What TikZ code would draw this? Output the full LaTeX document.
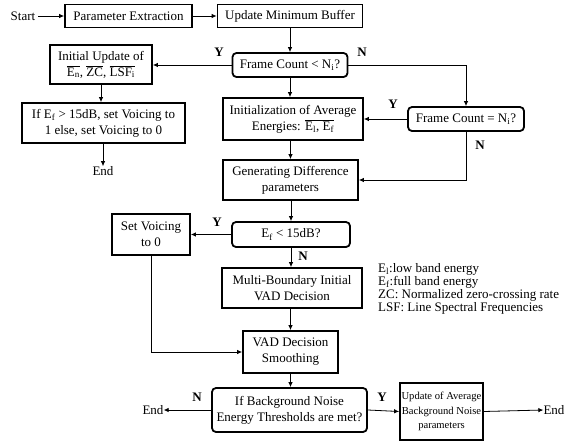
\documentclass[tikz,border=0pt]{standalone}
\usepackage{fontspec}
\setmainfont{Liberation Serif}
\usetikzlibrary{arrows.meta}
\newcommand\fs{\fontsize{13}{16}\selectfont}
\newcommand\fss{\fontsize{10.6}{14.5}\selectfont}
\newcommand\ov[1]{$\overline{\mbox{#1}}$}
\tikzset{
  box/.style={draw, line width=1.8pt, inner sep=0pt, align=center, font=\fs},
  rbox/.style={box, rounded corners=4pt},
  conn/.style={-{Latex[length=5pt,width=4.5pt]}, line width=0.8pt},
  lbl/.style={font=\fs\bfseries, inner sep=0pt},
  plain/.style={font=\fs, inner sep=0pt},
}
\begin{document}
\begin{tikzpicture}[x=1pt,y=-1pt]
\useasboundingbox (0,0) rectangle (574,442);
% nodes
\node[plain] (start) at (23,16) {Start};
\node[box, minimum width=127pt, minimum height=23pt] (param) at (128.5,16) {Parameter Extraction};
\node[box, minimum width=145pt, minimum height=23pt] (upd) at (290,16) {Update Minimum Buffer};
\node[rbox, minimum width=115pt, minimum height=24pt] (fc1) at (290,65) {Frame Count < N\textsubscript{i}?};
\node[box, minimum width=102pt, minimum height=39pt] (initupd) at (101,64.5) {Initial Update of\\ \ov{E\textsubscript{n}}, \ov{ZC}, \ov{LSF\textsubscript{i}}};
\node[box, minimum width=163pt, minimum height=40pt] (ifef) at (103.5,123) {If E\textsubscript{f} > 15dB, set Voicing to\\ 1 else, set Voicing to 0};
\node[plain] (end1) at (103,171) {End};
\node[box, minimum width=140pt, minimum height=42pt] (init) at (293,119) {Initialization of Average\\ Energies: \ov{E\textsubscript{l}, E\textsubscript{f}}};
\node[rbox, minimum width=116pt, minimum height=24pt] (fc2) at (466,119) {Frame Count = N\textsubscript{i}?};
\node[box, minimum width=135pt, minimum height=40pt] (gen) at (290.5,180) {Generating Difference\\ parameters};
\node[rbox, minimum width=118pt, minimum height=25pt] (ef) at (291,234.5) {E\textsubscript{f} < 15dB?};
\node[box, minimum width=78pt, minimum height=41pt] (setv) at (151,234.5) {Set Voicing\\ to 0};
\node[box, minimum width=140pt, minimum height=40pt] (multi) at (292,288) {Multi-Boundary Initial\\ VAD Decision};
\node[box, minimum width=95pt, minimum height=42pt] (vad) at (290.5,352) {VAD Decision\\ Smoothing};
\node[rbox, minimum width=155pt, minimum height=44pt] (bg) at (289.5,410) {If Background Noise\\ Energy Thresholds are met?};
\node[box, minimum width=83pt, minimum height=57pt, font=\fss] (updavg) at (441.5,411.5) {Update of Average\\ Background Noise\\ parameters};
\node[plain] (endL) at (153,410) {End};
\node[plain] (endR) at (554,410) {End};
% legend
\node[plain, anchor=west, align=left, font=\fontsize{13}{13}\selectfont] (legend) at (378,289) {E\textsubscript{l}:low band energy\\ E\textsubscript{f}:full band energy\\ ZC: Normalized zero-crossing rate\\ LSF: Line Spectral Frequencies};
% connectors
\draw[conn] (start.east) ++(3,0) -- (param.west);
\draw[conn] (param) -- (upd);
\draw[conn] (upd.south) -- (fc1.north);
\draw[conn] (fc1.west) -- (fc1.west -| initupd.east);
\draw[conn] (initupd.south) -- (initupd.south |- ifef.north);
\draw[conn] (ifef.south -| end1) -- (end1.north);
\draw[conn] (fc1.south) -- (fc1.south |- init.north);
\draw[conn] (fc1.east) -| (fc2.north);
\draw[conn] (fc2.west) -- (fc2.west -| init.east);
\draw[conn] (fc2.south) |- (gen.east);
\draw[conn] (gen.north |- init.south) -- (gen.north);
\draw[conn] (gen.south) -- (gen.south -| ef.north) -- (ef.north);
\draw[conn] (ef.west) -- (ef.west -| setv.east);
\draw[conn] (ef.south) -- (ef.south |- multi.north);
\draw[conn] (vad.north |- multi.south) -- (vad.north);
\draw[conn] (setv.south) |- (vad.west);
\draw[conn] (vad.south) -- (vad.south |- bg.north);
\draw[conn] (bg.west) -- (endL.east);
\draw[conn] (bg.east) -- (updavg.west);
\draw[conn] (updavg.east) -- (endR.west);
% labels
\node[lbl] (y1) at (219,52) {Y};
\node[lbl] (n1) at (362,52) {N};
\node[lbl] (y2) at (393,104) {Y};
\node[lbl] (n2) at (480,145) {N};
\node[lbl] (y3) at (217,222) {Y};
\node[lbl] (n3) at (303,256) {N};
\node[lbl] (n4) at (197,397) {N};
\node[lbl] (y4) at (382,397) {Y};
\end{tikzpicture}
\end{document}
